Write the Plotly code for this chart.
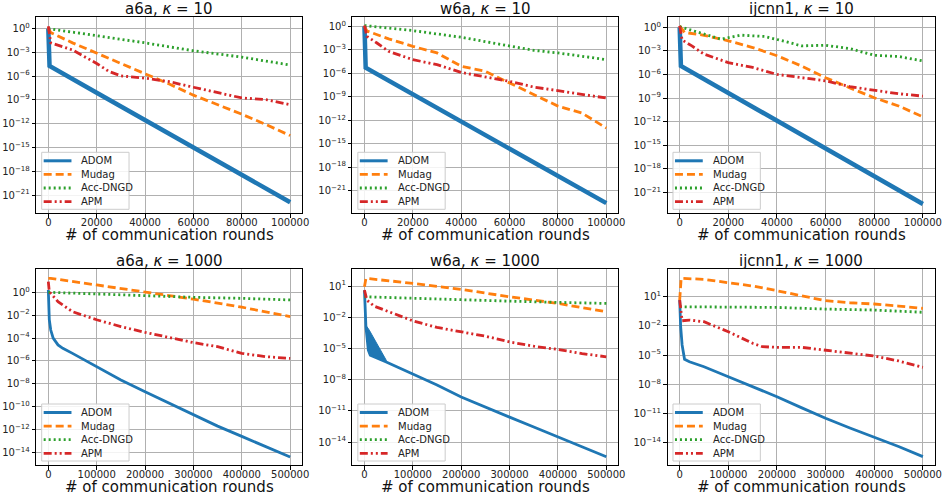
import plotly.graph_objects as go

# ---------------- data (log10 of error) ----------------
# Top row: kappa = 10, x in communication rounds (0..100000)
a6a10_adom_x = [0, 500, 20000, 40000, 60000, 80000, 100000]
a6a10_adom_y = [0.0, -4.7, -8.1, -11.55, -15.0, -18.4, -21.9]
a6a10_mud_x = [0, 1000, 10000, 20000, 30000, 40000, 50000, 60000, 70000, 80000, 90000, 100000]
a6a10_mud_y = [0.0, -0.5, -1.8, -3.1, -4.4, -5.7, -7.0, -8.4, -9.6, -10.8, -12.1, -13.5]
a6a10_acc_x = [0, 20000, 40000, 60000, 80000, 100000]
a6a10_acc_y = [0.0, -0.9, -1.8, -2.8, -3.6, -4.6]
a6a10_apm_x = [0, 1000, 10000, 20000, 25000, 30000, 40000, 50000, 60000, 70000, 80000, 90000, 100000]
a6a10_apm_y = [0.3, -1.8, -2.7, -4.4, -5.4, -5.96, -6.25, -6.7, -7.4, -8.05, -8.75, -8.96, -9.6]

w6a10_adom_x = [0, 500, 100000]
w6a10_adom_y = [0.0, -5.3, -22.6]
w6a10_mud_x = [0, 1000, 10000, 20000, 30000, 40000, 50000, 60000, 70000, 80000, 90000, 100000]
w6a10_mud_y = [0.0, -0.6, -1.6, -2.56, -3.4, -5.1, -5.76, -7.25, -8.66, -10.2, -11.1, -13.0]
w6a10_acc_x = [0, 20000, 40000, 60000, 70000, 80000, 100000]
w6a10_acc_y = [0.1, -0.55, -1.4, -2.47, -3.07, -3.4, -4.26]
w6a10_apm_x = [0, 1000, 5000, 10000, 20000, 30000, 40000, 50000, 60000, 70000, 80000, 90000, 100000]
w6a10_apm_y = [0.1, -1.28, -2.1, -3.2, -4.26, -4.9, -5.9, -6.5, -7.04, -7.76, -8.23, -8.7, -9.17]

ijc10_adom_x = [0, 500, 100000]
ijc10_adom_y = [0.0, -4.9, -22.5]
ijc10_mud_x = [0, 2000, 10000, 20000, 30000, 40000, 50000, 60000, 70000, 80000, 90000, 100000]
ijc10_mud_y = [0.2, -0.64, -1.0, -1.7, -2.56, -3.6, -4.9, -6.4, -7.7, -8.96, -10.0, -11.4]
ijc10_acc_x = [0, 10000, 17000, 25000, 35000, 45000, 50000, 60000, 70000, 80000, 90000, 100000]
ijc10_acc_y = [0.1, -0.86, -1.5, -0.98, -1.15, -1.92, -2.35, -2.27, -2.7, -3.55, -3.7, -4.27]
ijc10_apm_x = [0, 1000, 5000, 10000, 20000, 30000, 40000, 50000, 60000, 70000, 80000, 90000, 100000]
ijc10_apm_y = [0.2, -1.6, -2.35, -3.4, -4.48, -5.1, -5.98, -6.4, -6.8, -7.55, -8.0, -8.45, -8.75]

# Bottom row: kappa = 1000, x in communication rounds (0..500000)
a6a1k_adom_x = [0, 2000, 5000, 10000, 20000, 30000, 50000, 100000, 150000, 200000, 250000, 300000, 350000, 400000, 450000, 500000]
a6a1k_adom_y = [0.2, -2.4, -3.3, -4.0, -4.6, -4.9, -5.34, -6.5, -7.67, -8.7, -9.7, -10.7, -11.7, -12.6, -13.5, -14.4]
a6a1k_mud_x = [0, 5000, 100000, 200000, 300000, 400000, 500000]
a6a1k_mud_y = [1.22, 1.22, 0.64, 0.05, -0.6, -1.3, -2.13]
a6a1k_acc_x = [0, 100000, 200000, 300000, 400000, 500000]
a6a1k_acc_y = [0.0, -0.15, -0.3, -0.44, -0.53, -0.67]
a6a1k_apm_x = [0, 2000, 20000, 50000, 100000, 150000, 200000, 250000, 300000, 350000, 400000, 450000, 500000]
a6a1k_apm_y = [0.93, 0.05, -0.82, -1.7, -2.4, -3.0, -3.5, -3.94, -4.4, -4.76, -5.34, -5.63, -5.78]

w6a1k_adom_x = [0, 3000, 8000, 12000, 45000, 100000, 150000, 200000, 250000, 300000, 350000, 400000, 450000, 500000]
w6a1k_adom_y = [0.6, -2.9, -5.17, -5.65, -6.3, -7.48, -8.5, -9.67, -10.6, -11.6, -12.55, -13.5, -14.45, -15.4]
w6a1k_band_up_x = [0, 3000, 10000, 20000, 30000, 45000]
w6a1k_band_up_y = [0.6, -2.76, -3.24, -4.04, -4.85, -6.13]
w6a1k_mud_x = [0, 3000, 100000, 200000, 300000, 400000, 500000]
w6a1k_mud_y = [0.93, 1.74, 1.26, 0.68, -0.03, -0.67, -1.47]
w6a1k_acc_x = [0, 100000, 200000, 300000, 400000, 500000]
w6a1k_acc_y = [-0.03, -0.19, -0.35, -0.45, -0.57, -0.67]
w6a1k_apm_x = [0, 5000, 20000, 50000, 100000, 150000, 200000, 250000, 300000, 350000, 400000, 450000, 500000]
w6a1k_apm_y = [0.61, -0.35, -0.93, -1.47, -2.34, -2.98, -3.4, -3.82, -4.37, -4.78, -5.1, -5.49, -5.8]

ijc1k_adom_x = [0, 2000, 5000, 8000, 10000, 20000, 50000, 100000, 150000, 200000, 250000, 300000, 350000, 400000, 450000, 500000]
ijc1k_adom_y = [0.66, -2.08, -3.96, -5.17, -5.43, -5.68, -6.2, -7.22, -8.25, -9.28, -10.4, -11.5, -12.5, -13.45, -14.4, -15.44]
ijc1k_mud_x = [0, 3000, 50000, 100000, 150000, 200000, 250000, 300000, 350000, 400000, 450000, 500000]
ijc1k_mud_y = [0.66, 2.89, 2.79, 2.48, 2.1, 1.62, 1.07, 0.59, 0.38, 0.25, 0.04, -0.2]
ijc1k_acc_x = [0, 100000, 200000, 300000, 400000, 500000]
ijc1k_acc_y = [-0.03, -0.1, -0.1, -0.27, -0.37, -0.6]
ijc1k_apm_x = [0, 5000, 20000, 50000, 100000, 150000, 170000, 200000, 250000, 300000, 350000, 400000, 450000, 500000]
ijc1k_apm_y = [0.66, -1.47, -1.4, -1.57, -2.6, -3.79, -4.14, -4.2, -4.2, -4.48, -4.75, -5.1, -5.6, -6.26]

titles = ["a6a, <i>κ</i> = 10", "w6a, <i>κ</i> = 10", "ijcnn1, <i>κ</i> = 10",
          "a6a, <i>κ</i> = 1000", "w6a, <i>κ</i> = 1000", "ijcnn1, <i>κ</i> = 1000"]
series_names = ["ADOM", "Mudag", "Acc-DNGD", "APM"]
xtick_top = [0, 20000, 40000, 60000, 80000, 100000]
xtick_bot = [0, 100000, 200000, 300000, 400000, 500000]
ytick_sets = [
    list(range(0, -22, -3)), list(range(0, -22, -3)), list(range(0, -22, -3)),
    list(range(0, -15, -2)), [1, -2, -5, -8, -11, -14], [1, -2, -5, -8, -11, -14],
]
xlabel = "# of communication rounds"

panels = [
    [(a6a10_adom_x, a6a10_adom_y), (a6a10_mud_x, a6a10_mud_y), (a6a10_acc_x, a6a10_acc_y), (a6a10_apm_x, a6a10_apm_y)],
    [(w6a10_adom_x, w6a10_adom_y), (w6a10_mud_x, w6a10_mud_y), (w6a10_acc_x, w6a10_acc_y), (w6a10_apm_x, w6a10_apm_y)],
    [(ijc10_adom_x, ijc10_adom_y), (ijc10_mud_x, ijc10_mud_y), (ijc10_acc_x, ijc10_acc_y), (ijc10_apm_x, ijc10_apm_y)],
    [(a6a1k_adom_x, a6a1k_adom_y), (a6a1k_mud_x, a6a1k_mud_y), (a6a1k_acc_x, a6a1k_acc_y), (a6a1k_apm_x, a6a1k_apm_y)],
    [(w6a1k_adom_x, w6a1k_adom_y), (w6a1k_mud_x, w6a1k_mud_y), (w6a1k_acc_x, w6a1k_acc_y), (w6a1k_apm_x, w6a1k_apm_y)],
    [(ijc1k_adom_x, ijc1k_adom_y), (ijc1k_mud_x, ijc1k_mud_y), (ijc1k_acc_x, ijc1k_acc_y), (ijc1k_apm_x, ijc1k_apm_y)],
]

# ---------------- styling / layout ----------------
W, H = 946, 499
colors = ["#1f77b4", "#ff7f0e", "#2ca02c", "#d62728"]
dashes = ["solid", "8px,4px", "2px,3px", "8px,3px,2px,3px,2px,3px"]
col_px = [(36.5, 304.5), (355, 623), (672.5, 942)]
row_px = [(17, 213.3), (269.3, 465)]
yranges = [(-23.3, 1.46), (-23.9, 1.19), (-23.68, 1.33), (-15.1, 2.01), (-16.2, 2.61), (-16.3, 3.82)]
FONT = "DejaVu Sans, Liberation Sans, sans-serif"


def sup(v):
    s = str(v).replace("-", "\u2212")
    return "10<sup>%s</sup>" % s


def px(xp, yp):
    return xp / W, 1 - yp / H


fig = go.Figure()
layout = dict(
    width=W, height=H, margin=dict(l=0, r=0, t=0, b=0),
    paper_bgcolor="white", plot_bgcolor="white",
    font=dict(family=FONT, color="#222"), showlegend=False,
)
annotations = []
shapes = []

for i in range(6):
    r, c = divmod(i, 3)
    ax = "" if i == 0 else str(i + 1)
    x0, x1 = col_px[c]
    y0, y1 = row_px[r]
    dom_x = [x0 / W, x1 / W]
    dom_y = [1 - y1 / H, 1 - y0 / H]
    xr = [-5000, 105000] if r == 0 else [-25000, 525000]
    xt = xtick_top if r == 0 else xtick_bot
    common = dict(showline=True, linecolor="black", linewidth=1, mirror=True,
                  showgrid=True, gridcolor="#b0b0b0", gridwidth=1,
                  ticks="outside", ticklen=3.5, tickcolor="black",
                  tickfont=dict(size=10, family=FONT, color="#222"), zeroline=False)
    layout["xaxis" + ax] = dict(domain=dom_x, range=xr, anchor="y" + ax, ticklabelstandoff=-4,
                                tickvals=xt, ticktext=[str(v) for v in xt], **common)
    yt = ytick_sets[i]
    layout["yaxis" + ax] = dict(domain=dom_y, type="log", range=list(yranges[i]), anchor="x" + ax,
                                tickvals=[10 ** v for v in yt], ticktext=[sup(v) for v in yt], **common)
    annotations.append(dict(text=titles[i], x=(x0 + x1) / 2 / W, y=1 - (y0 - 8) / H,
                            xref="paper", yref="paper", xanchor="center", yanchor="middle",
                            showarrow=False, font=dict(size=15, family=FONT, color="#111")))
    annotations.append(dict(text=xlabel, x=(x0 + x1) / 2 / W, y=1 - (y1 + 22) / H,
                            xref="paper", yref="paper", xanchor="center", yanchor="middle",
                            showarrow=False, font=dict(size=15, family=FONT, color="#111")))

    if i == 4:
        bx = w6a1k_band_up_x + w6a1k_adom_x[:5][::-1]
        by = w6a1k_band_up_y + w6a1k_adom_y[:5][::-1]
        fig.add_trace(go.Scatter(x=bx, y=[10 ** v for v in by], mode="lines", fill="toself",
                                 fillcolor=colors[0], line=dict(color=colors[0], width=1),
                                 showlegend=False, xaxis="x" + ax, yaxis="y" + ax,
                                 hoverinfo="skip"))
    for k, (xs, ys) in enumerate(panels[i]):
        wdt = 2.8
        if k == 0:
            wdt = 4.5 if r == 0 else 2.8
        fig.add_trace(go.Scatter(x=xs, y=[10 ** v for v in ys], mode="lines", name=series_names[k],
                                 line=dict(color=colors[k], width=wdt, dash=dashes[k]),
                                 xaxis="x" + ax, yaxis="y" + ax))

    # manual legend (matplotlib-like) in the lower-left corner of each panel
    bl, bb = x0 + 5.5, y1 - 4
    bt = bb - 57
    br = bl + 88
    ax0, ay0 = px(bl, bb)
    ax1, ay1 = px(br, bt)
    shapes.append(dict(type="rect", xref="paper", yref="paper", x0=ax0, x1=ax1, y0=ay0, y1=ay1,
                       fillcolor="rgba(255,255,255,0.85)", line=dict(color="#cccccc", width=1),
                       layer="above"))
    for k in range(4):
        yy = bt + 8.5 + k * 13.6
        lx0, ly = px(bl + 2, yy)
        lx1, _ = px(bl + 30, yy)
        lw = 3 if k == 0 else 2.8
        shapes.append(dict(type="line", xref="paper", yref="paper", x0=lx0, x1=lx1, y0=ly, y1=ly,
                           line=dict(color=colors[k], width=lw, dash=dashes[k]), layer="above"))
        tx, ty = px(bl + 38, yy)
        annotations.append(dict(text=series_names[k], x=tx, y=ty, xref="paper", yref="paper",
                                xanchor="left", yanchor="middle", showarrow=False,
                                font=dict(size=10, family=FONT, color="#222")))

layout["annotations"] = annotations
layout["shapes"] = shapes
fig.update_layout(**layout)
fig.write_html("out.html")
